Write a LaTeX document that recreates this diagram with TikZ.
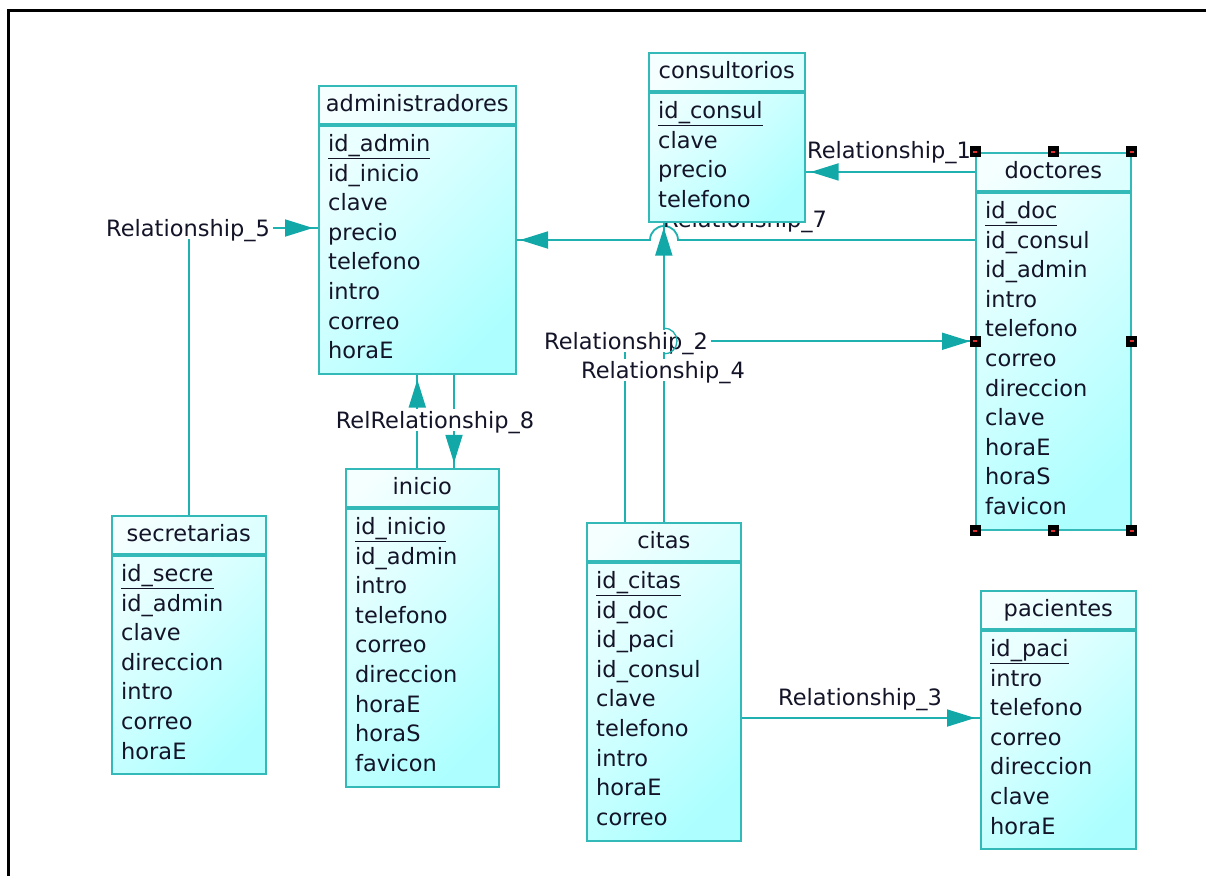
\documentclass[tikz,border=0pt]{standalone}
\usepackage{fontspec}
\setmainfont{DejaVu Sans}
\usepackage{tikz}
\usetikzlibrary{calc,arrows.meta,decorations.markings}
\definecolor{edge}{HTML}{34B9B9}
\definecolor{relc}{HTML}{1FB0B0}
\definecolor{tipc}{HTML}{12A8A8}
\definecolor{hlight}{HTML}{F6FFFF}
\definecolor{hdark}{HTML}{DCFFFF}
\definecolor{blight}{HTML}{EAFFFF}
\definecolor{bdark}{HTML}{ADFFFF}
\definecolor{ink}{HTML}{141428}
\definecolor{hred}{HTML}{E03030}
\tikzset{
  ebody/.style={draw=edge, line width=1.6pt, top color=blight, bottom color=bdark, shading angle=45, anchor=north west, inner sep=0pt},
  ehead/.style={draw=edge, line width=1.6pt, top color=hlight, bottom color=hdark, shading angle=45, anchor=south west, minimum height=38.5pt, inner sep=0pt, text height=16pt, text depth=3pt, text=ink},
  attr/.style={anchor=base west, inner sep=0pt, text=ink},
  rel/.style={draw=relc, line width=1.8pt, postaction={decorate},
    decoration={markings, mark=at position -5pt with {\arrow{Triangle[length=28pt,width=17pt,color=tipc,fill=tipc]}}}},
  lab/.style={text=ink, inner sep=0pt, anchor=base},
  labw/.style={text=ink, fill=white, inner sep=3pt, text height=16pt, text depth=0pt},
  hop/.style={draw=relc, line width=1.3pt},
  handle/.style={fill=black, minimum size=11pt, inner sep=0pt,
    path picture={\fill[hred] ([xshift=-2pt,yshift=-1pt]path picture bounding box.center) rectangle ++(4pt,2pt);}}
}
\begin{document}
\begin{tikzpicture}[x=1pt, y=-1pt, font=\fontsize{22.5}{27}\selectfont]
  \useasboundingbox (0,0) rectangle (1206,876);
  \draw[black, line width=3pt] (1206,10) -- (8,10) -- (8,876);

  % Relationship_7 sits under consultorios
  \draw[rel] (975,240) -- (678,240) arc[start angle=0, end angle=180, radius=14pt] -- (515,240);
  \node[lab] (r7) at (745,227) {Relationship\_7};

  % administradores
  \node[ebody, minimum width=197pt, minimum height=248pt] (adm) at (318,125) {};
  \node[ehead, minimum width=197pt] (admH) at (adm.north west) {administradores};
  \node[attr] (adm1) at ($(adm.north west)+(10,26.5)$) {\underline{id\_admin}};
  \foreach \a [count=\i from 2] in {id\_inicio,clave,precio,telefono,intro,correo,horaE}
    \node[attr] (adm\i) at ($(adm1.base west)+(0,{(\i-1)*29.6})$) {\a};

  % consultorios
  \node[ebody, minimum width=156pt, minimum height=129pt] (con) at (648,92) {};
  \node[ehead, minimum width=156pt] (conH) at (con.north west) {consultorios};
  \node[attr] (con1) at ($(con.north west)+(10,26.5)$) {\underline{id\_consul}};
  \foreach \a [count=\i from 2] in {clave,precio,telefono}
    \node[attr] (con\i) at ($(con1.base west)+(0,{(\i-1)*29.6})$) {\a};

  % doctores
  \node[ebody, minimum width=155pt, minimum height=337pt] (doc) at (975,192) {};
  \node[ehead, minimum width=155pt] (docH) at (doc.north west) {doctores};
  \node[attr] (doc1) at ($(doc.north west)+(10,26.5)$) {\underline{id\_doc}};
  \foreach \a [count=\i from 2] in {id\_consul,id\_admin,intro,telefono,correo,direccion,clave,horaE,horaS,favicon}
    \node[attr] (doc\i) at ($(doc1.base west)+(0,{(\i-1)*29.6})$) {\a};

  % secretarias
  \node[ebody, minimum width=154pt, minimum height=218pt] (sec) at (111,555) {};
  \node[ehead, minimum width=154pt] (secH) at (sec.north west) {secretarias};
  \node[attr] (sec1) at ($(sec.north west)+(10,26.5)$) {\underline{id\_secre}};
  \foreach \a [count=\i from 2] in {id\_admin,clave,direccion,intro,correo,horaE}
    \node[attr] (sec\i) at ($(sec1.base west)+(0,{(\i-1)*29.6})$) {\a};

  % inicio
  \node[ebody, minimum width=153pt, minimum height=278pt] (ini) at (345,508) {};
  \node[ehead, minimum width=153pt] (iniH) at (ini.north west) {inicio};
  \node[attr] (ini1) at ($(ini.north west)+(10,26.5)$) {\underline{id\_inicio}};
  \foreach \a [count=\i from 2] in {id\_admin,intro,telefono,correo,direccion,horaE,horaS,favicon}
    \node[attr] (ini\i) at ($(ini1.base west)+(0,{(\i-1)*29.6})$) {\a};

  % citas
  \node[ebody, minimum width=154pt, minimum height=278pt] (cit) at (586,562) {};
  \node[ehead, minimum width=154pt] (citH) at (cit.north west) {citas};
  \node[attr] (cit1) at ($(cit.north west)+(10,26.5)$) {\underline{id\_citas}};
  \foreach \a [count=\i from 2] in {id\_doc,id\_paci,id\_consul,clave,telefono,intro,horaE,correo}
    \node[attr] (cit\i) at ($(cit1.base west)+(0,{(\i-1)*29.6})$) {\a};

  % pacientes
  \node[ebody, minimum width=155pt, minimum height=218pt] (pac) at (980,630) {};
  \node[ehead, minimum width=155pt] (pacH) at (pac.north west) {pacientes};
  \node[attr] (pac1) at ($(pac.north west)+(10,26.5)$) {\underline{id\_paci}};
  \foreach \a [count=\i from 2] in {intro,telefono,correo,direccion,clave,horaE}
    \node[attr] (pac\i) at ($(pac1.base west)+(0,{(\i-1)*29.6})$) {\a};

  \coordinate (docML) at ($(docH.north west)!0.5!(doc.south west)$);
  \coordinate (docMR) at ($(docH.north east)!0.5!(doc.south east)$);

  % relationships
  \draw[rel] (docH.west) -- (docH.west -| con.east);
  \node[lab] (r1) at (889,158) {Relationship\_1};
  \draw[rel] ($(citH.north west)!0.25!(citH.north east)$) |- (docML);
  \draw[rel] (citH.north) -- (citH.north |- con.south);
  \draw[rel] (cit.east |- 0,718) -- (pac.west |- 0,718);
  \node[lab] (r3) at (860,705) {Relationship\_3};
  \draw[rel] (secH.north) |- (adm.west |- 0,228);
  \draw[rel] (iniH.north -| adm.south) -- (adm.south);
  \draw[rel] (adm.south -| 454,0) -- (iniH.north -| 454,0);

  \node[labw] (r5) at (188,228) {Relationship\_5};
  \node[labw] (r2) at (626,341) {Relationship\_2};
  \node[labw] (r4) at (663,370) {Relationship\_4};
  \node[labw] (r8) at (435,420) {RelRelationship\_8};
  \draw[hop] (664,328) arc[start angle=90, end angle=-90, radius=13pt];

  % selection handles
  \foreach \p [count=\k] in {docH.north west, docH.north, docH.north east, docML, docMR, doc.south west, doc.south, doc.south east}
    \node[handle] (hd\k) at (\p) {};
\end{tikzpicture}
\end{document}
